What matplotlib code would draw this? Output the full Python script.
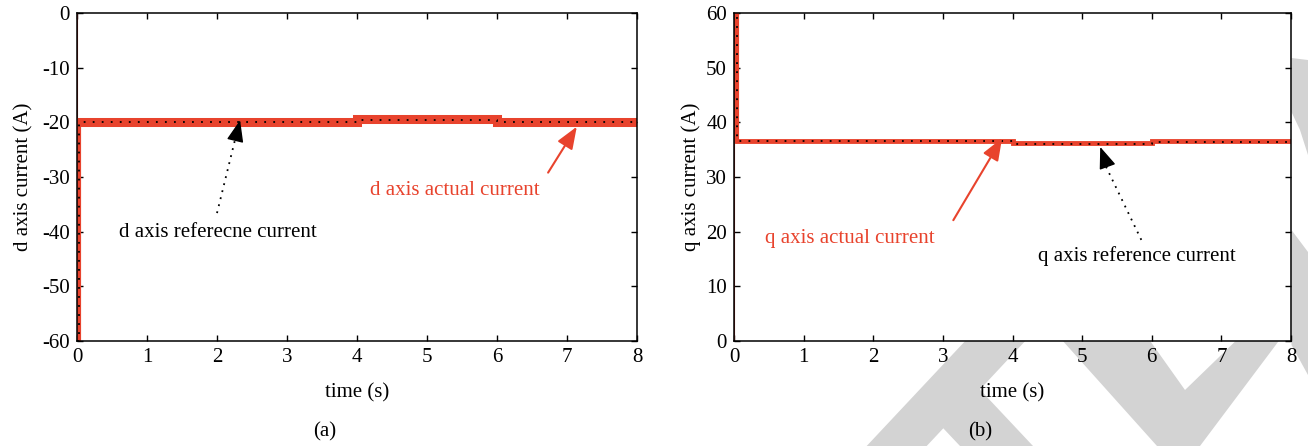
import matplotlib
matplotlib.use("Agg")
import matplotlib.pyplot as plt
from matplotlib.patches import Polygon

# data
d_time = [0.0, 0.0, 0.03, 4.0, 6.0, 8.0]
d_actual = [0.0, -60.0, -19.9, -19.4, -19.9, -19.9]
d_ref = [0.0, -60.0, -20.0, -19.6, -20.0, -20.0]

q_time = [0.0, 0.0, 0.05, 4.0, 6.0, 8.0]
q_actual = [0.0, 65.0, 36.6, 36.2, 36.5, 36.5]
q_ref = [0.0, 65.0, 36.5, 36.0, 36.4, 36.4]

x_ticks = [0, 1, 2, 3, 4, 5, 6, 7, 8]
d_ticks = [0, -10, -20, -30, -40, -50, -60]
q_ticks = [0, 10, 20, 30, 40, 50, 60]

red = "#e8432d"
dark_red = "#9c2a20"
plt.rcParams["font.family"] = ["Liberation Serif", "DejaVu Serif"]
plt.rcParams["font.size"] = 15
plt.rcParams["axes.unicode_minus"] = False

W, H = 1308, 446
fig = plt.figure(figsize=(W / 100, H / 100), dpi=100)


# grey watermark shapes behind the axes (pixel coords, top-left origin)
def px(pts):
    return [(x / W, 1 - y / H) for x, y in pts]


marks = [
    [(866.7, 446), (975.5, 330), (1035.5, 330), (979.9, 389.5), (1033, 446),
     (960, 446), (943.3, 428.3), (926.7, 446)],
    [(1053, 330), (1142.4, 330), (1185, 390), (1247, 330), (1287, 330),
     (1200, 446), (1157, 446)],
    [(1291.5, 58), (1308, 60), (1308, 155), (1300, 130), (1291.5, 112)],
    [(1291.5, 230), (1308, 252), (1308, 375), (1291.5, 345)],
]
for m in marks:
    fig.patches.append(Polygon(px(m), closed=True, transform=fig.transFigure,
                               facecolor="#d3d3d3", edgecolor="none", zorder=-1))

ax1 = fig.add_axes([77 / W, 1 - 341 / H, 560 / W, 328 / H])
ax2 = fig.add_axes([734 / W, 1 - 341 / H, 557 / W, 328 / H])

# actual currents: thin start along the axis, transient, then thick steady band
for ax, t, v, lw in [(ax1, d_time, d_actual, 6.5), (ax2, q_time, q_actual, 3.5)]:
    ax.plot(t[:2], v[:2], color=dark_red, lw=1.5)
    ax.plot(t[1:3], v[1:3], drawstyle="steps-post", color=red, lw=3)
    ax.plot(t[2:], v[2:], drawstyle="steps-post", color=red, lw=lw,
            solid_joinstyle="miter")

ax1.plot(d_time[1:], d_ref[1:], drawstyle="steps-post", color="black", lw=1.3,
         linestyle=(0, (1, 4)))
ax2.plot(q_time[1:], q_ref[1:], drawstyle="steps-post", color="black", lw=1.3,
         linestyle=(0, (1, 4)))

for ax, ticks in [(ax1, d_ticks), (ax2, q_ticks)]:
    ax.set_xlim(0, 8)
    ax.set_xticks(x_ticks)
    ax.set_ylim(min(ticks), max(ticks))
    ax.set_yticks(ticks)
    ax.tick_params(direction="in", top=True, right=True, length=4, width=1,
                   pad=5, labelsize=15)
    for s in ax.spines.values():
        s.set_linewidth(1.1)
    ax.set_xlabel("time (s)", labelpad=12)

ax1.set_ylabel("d axis current (A)", labelpad=6)
ax2.set_ylabel("q axis current (A)", labelpad=4)

# annotations, panel (a)
ax1.plot([2.0, 2.29], [-36.6, -21.5], color="black", lw=1.3,
         linestyle=(0, (1, 3)))
ax1.annotate("", xy=(2.33, -19.6), xytext=(2.27, -22.8),
             arrowprops=dict(arrowstyle="-|>,head_length=0.9,head_width=0.35",
                             color="black", lw=1, shrinkA=0, shrinkB=0))
ax1.text(2.01, -40.1, "d axis referecne current", ha="center", va="center")
ax1.annotate("", xy=(7.14, -20.8), xytext=(6.73, -29.2),
             arrowprops=dict(arrowstyle="-|>,head_length=0.9,head_width=0.35",
                             color=red, lw=1.5, shrinkA=0, shrinkB=0))
ax1.text(5.4, -32.4, "d axis actual current", ha="center", va="center",
         color=red)

# annotations, panel (b)
ax2.annotate("", xy=(3.85, 37.1), xytext=(3.15, 22.1),
             arrowprops=dict(arrowstyle="-|>,head_length=0.9,head_width=0.35",
                             color=red, lw=1.5, shrinkA=0, shrinkB=0))
ax2.text(1.67, 18.8, "q axis actual current", ha="center", va="center",
         color=red)
ax2.plot([5.85, 5.32], [18.5, 32.5], color="black", lw=1.3,
         linestyle=(0, (1, 3)))
ax2.annotate("", xy=(5.26, 35.5), xytext=(5.36, 32.0),
             arrowprops=dict(arrowstyle="-|>,head_length=0.9,head_width=0.35",
                             color="black", lw=1, shrinkA=0, shrinkB=0))
ax2.text(5.79, 15.5, "q axis reference current", ha="center", va="center")

fig.text(325 / W, 1 - 432 / H, "(a)", ha="center", va="center")
fig.text(980 / W, 1 - 432 / H, "(b)", ha="center", va="center")

fig.savefig("out.png", dpi=100)
